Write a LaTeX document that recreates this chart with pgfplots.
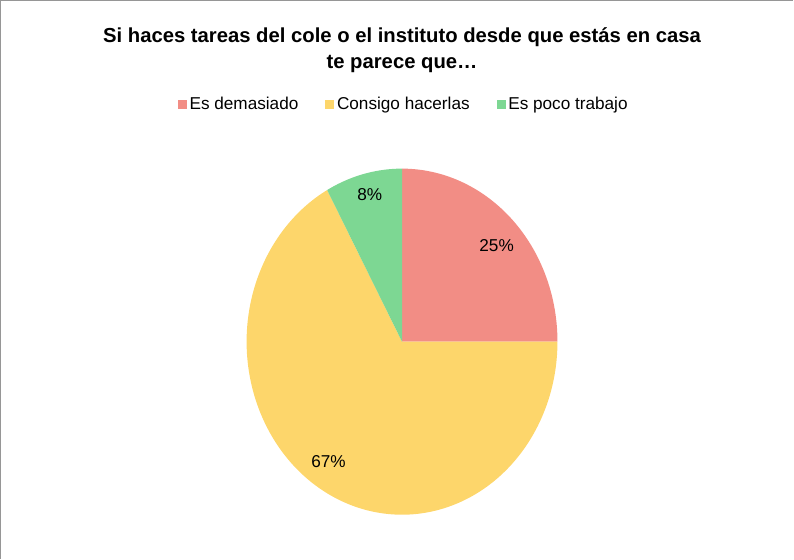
\documentclass[border=0pt]{standalone}
\usepackage{pgfplots}
\pgfplotsset{compat=1.18}
\usepackage{fontspec}
\setmainfont{Liberation Sans}
\definecolor{pieRed}{RGB}{242,141,133}
\definecolor{pieYellow}{RGB}{253,214,107}
\definecolor{pieGreen}{RGB}{125,215,147}
\definecolor{frameGray}{RGB}{150,150,150}
% shares (percent): Es demasiado 25, Consigo hacerlas 67, Es poco trabajo 8
% slice angles, clockwise from 90 deg: 90 -> 0 -> -241.2 -> -270
\begin{document}
\begin{tikzpicture}
\begin{axis}[
  scale only axis, width=595.5pt, height=418.5pt,
  xmin=0, xmax=794, ymin=0, ymax=558, y dir=reverse,
  hide axis, clip=false,
  legend columns=3,
  legend style={at={(axis cs:407,106)}, anchor=center, draw=none, fill=none,
    font=\fontsize{12.8}{15}\selectfont, inner sep=0pt,
    /tikz/every even column/.append style={column sep=18pt},
    cells={inner xsep=3pt}},
  legend image code/.code={\fill[#1] (0pt,-3.4pt) rectangle (6.8pt,3.4pt);},
]
\addplot[fill=pieRed, draw=none, domain=0:90, samples=80]
  ({405+154.5*cos(x)}, {342-172*sin(x)}) -- (axis cs:405,342) -- cycle;
\addlegendentry{Es demasiado}
\addplot[fill=pieYellow, draw=none, domain=-241.2:0, samples=200]
  ({405+154.5*cos(x)}, {342-172*sin(x)}) -- (axis cs:405,342) -- cycle;
\addlegendentry{Consigo hacerlas}
\addplot[fill=pieGreen, draw=none, domain=-270:-241.2, samples=40]
  ({405+154.5*cos(x)}, {342-172*sin(x)}) -- (axis cs:405,342) -- cycle;
\addlegendentry{Es poco trabajo}
\draw[frameGray, line width=0.9pt] (axis cs:6,558) -- (axis cs:6,3) -- (axis cs:794,3);
\node[align=center, font=\fontsize{15.1}{19.5}\selectfont\bfseries] at (axis cs:405,52)
  {Si haces tareas del cole o el instituto desde que estás en casa\\te parece que…};
\node[font=\fontsize{12.8}{15}\selectfont] at (axis cs:499,247) {25\%};
\node[font=\fontsize{12.8}{15}\selectfont] at (axis cs:373,196) {8\%};
\node[font=\fontsize{12.8}{15}\selectfont] at (axis cs:332,461) {67\%};
\end{axis}
\end{tikzpicture}
\end{document}
